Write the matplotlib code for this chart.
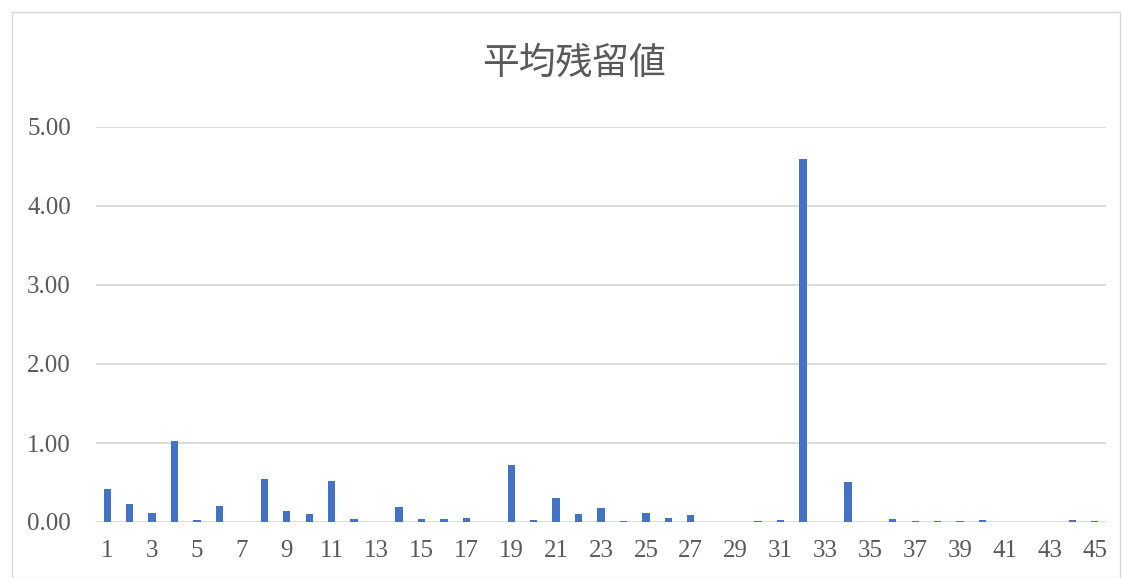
import matplotlib
matplotlib.use("Agg")
import matplotlib.pyplot as plt
from matplotlib.patches import Rectangle

categories = list(range(1, 46))
values = [0.42, 0.23, 0.12, 1.02, 0.02, 0.20, 0.005, 0.55, 0.135, 0.10,
          0.52, 0.035, 0.005, 0.195, 0.04, 0.04, 0.055, 0.005, 0.72, 0.02,
          0.305, 0.10, 0.18, 0.015, 0.12, 0.055, 0.085, 0.002, 0.003, 0.01,
          0.02, 4.59, 0.003, 0.51, 0.002, 0.04, 0.01, 0.01, 0.01, 0.02,
          0.001, 0.002, 0.002, 0.02, 0.015]
yticks = [0, 1, 2, 3, 4, 5]
title = "平均残留値"

W, H = 1124, 578
fig = plt.figure(figsize=(W / 100, H / 100), dpi=100)
ax = fig.add_axes([96 / W, 1 - 522 / H, (1106 - 96) / W, (522 - 127) / H])

ax.bar(categories, values, width=0.33, color="#4472C4", zorder=3)
ax.set_xlim(0.5, 45.5)
ax.set_ylim(0, 5)
ax.set_yticks(yticks)
ax.set_yticklabels([f"{v:.2f}" for v in yticks])
ax.set_xticks(categories[::2])
ax.set_xticklabels([str(c) for c in categories[::2]])
ax.grid(axis="y", color="#D9D9D9", linewidth=1.3, zorder=0)
ax.set_axisbelow(True)
for s in ax.spines.values():
    s.set_visible(False)
ax.tick_params(length=0, labelsize=18, labelcolor="#595959")
ax.tick_params(axis="x", pad=13)
ax.tick_params(axis="y", pad=18)
for lab in ax.get_xticklabels() + ax.get_yticklabels():
    lab.set_fontfamily(["Liberation Serif", "DejaVu Serif"])

fig.text(574 / W, 1 - 63 / H, title, ha="center", va="center",
         fontsize=26.5, color="#595959", family=["Noto Sans CJK JP", "DejaVu Sans"])

fig.patches.append(Rectangle((12 / W, 0), (1120 - 12) / W, 1 - 12 / H, transform=fig.transFigure,
                             fill=False, edgecolor="#D9D9D9", linewidth=1))

fig.savefig("out.png", dpi=100)
